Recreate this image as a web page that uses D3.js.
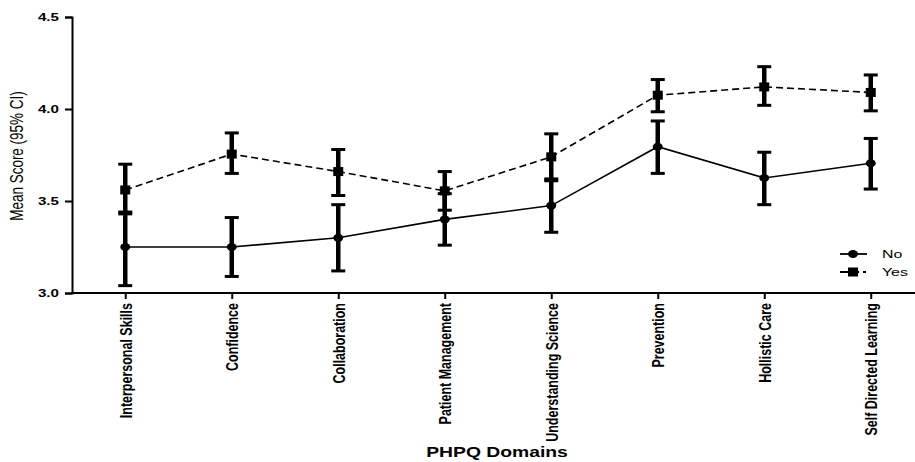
<!DOCTYPE html>
<html>
<head>
<meta charset="utf-8">
<script src="https://cdn.jsdelivr.net/npm/d3@7"></script>
<style>
  body { margin: 0; background: #fff; }
  text { font-family: Arial, "Liberation Sans", sans-serif; fill: #000; }
</style>
</head>
<body>
<svg id="chart" width="915" height="462"></svg>
<script>
var domains = ["Interpersonal Skills", "Confidence", "Collaboration", "Patient Management",
               "Understanding Science", "Prevention", "Hollistic Care", "Self Directed Learning"]

// "No" group: mean, lower, upper
var noMean  = [3.25, 3.25, 3.30, 3.40, 3.475, 3.795, 3.625, 3.705]
var noLow   = [3.04, 3.09, 3.12, 3.26, 3.33, 3.65, 3.48, 3.565]
var noHigh  = [3.44, 3.41, 3.48, 3.54, 3.62, 3.935, 3.765, 3.84]

// "Yes" group
var yesMean = [3.56, 3.755, 3.66, 3.555, 3.74, 4.075, 4.12, 4.09]
var yesLow  = [3.43, 3.65, 3.53, 3.45, 3.61, 3.985, 4.02, 3.99]
var yesHigh = [3.70, 3.87, 3.78, 3.66, 3.865, 4.16, 4.23, 4.185]

var yTicks = [3.0, 3.5, 4.0, 4.5]

// the original picture is stretched sideways, so text gets a horizontal stretch
var sx = 1.38

var svg = d3.select("#chart")

var x = d3.scalePoint()
  .domain(domains)
  .range([72, 924])
  .padding(0.5)

var y = d3.scaleLinear()
  .domain([3.0, 4.5])
  .range([293, 17])

// axes
var yAxis = svg.append("g")
  .attr("transform", "translate(72,0)")
  .call(d3.axisLeft(y).tickValues(yTicks).tickFormat(d3.format(".1f")).tickSizeOuter(0).tickSize(7))
yAxis.select(".domain").attr("stroke-width", 2)
yAxis.selectAll(".tick line").attr("stroke-width", 2)
yAxis.selectAll(".tick text")
  .style("font-size", "11px").style("font-weight", "bold")
  .attr("x", 0).attr("dy", "0.36em")
  .attr("text-anchor", "end")
  .attr("transform", "translate(-13,0) scale(" + sx + ",1)")

var xAxis = svg.append("g")
  .attr("transform", "translate(0,293)")
  .call(d3.axisBottom(x).tickSizeOuter(0).tickSize(6))
xAxis.select(".domain").attr("stroke-width", 2).attr("d", "M72,0H915")
xAxis.selectAll(".tick line").attr("stroke-width", 2)
xAxis.selectAll(".tick text")
  .style("font-size", "12.5px").style("font-weight", "bold")
  .attr("x", 0).attr("y", 0).attr("dy", "0.36em")
  .attr("text-anchor", "end")
  .attr("transform", "translate(0,10) scale(" + sx + ",1) rotate(-90)")

svg.append("text")
  .attr("transform", "translate(16,156) scale(" + sx + ",1) rotate(-90)")
  .attr("text-anchor", "middle")
  .attr("dy", "0.36em")
  .style("font-size", "13.5px")
  .text("Mean Score (95% CI)")

svg.append("text")
  .attr("transform", "translate(497,457) scale(" + sx + ",1)")
  .attr("text-anchor", "middle")
  .style("font-size", "14px").style("font-weight", "bold")
  .text("PHPQ Domains")

function drawSeries(mean, low, high, dashed, marker) {
  var g = svg.append("g")
  var line = d3.line().x((d, i) => x(domains[i])).y(d => y(d))
  g.append("path")
    .datum(mean)
    .attr("fill", "none")
    .attr("stroke", "#000")
    .attr("stroke-width", 1.6)
    .attr("stroke-dasharray", dashed ? "7,4" : null)
    .attr("d", line)

  domains.forEach((dm, i) => {
    var cx = x(dm)
    g.append("line").attr("x1", cx).attr("x2", cx).attr("y1", y(low[i])).attr("y2", y(high[i]))
      .attr("stroke", "#000").attr("stroke-width", 4.5)
    ;[low[i], high[i]].forEach(v => {
      g.append("line").attr("x1", cx - 7).attr("x2", cx + 7).attr("y1", y(v)).attr("y2", y(v))
        .attr("stroke", "#000").attr("stroke-width", 3)
    })
    drawMarker(g, marker, cx, y(mean[i]))
  })
}

function drawMarker(g, marker, cx, cy) {
  if (marker == "circle")
    g.append("ellipse").attr("cx", cx).attr("cy", cy).attr("rx", 5).attr("ry", 4).attr("fill", "#000")
  else
    g.append("rect").attr("x", cx - 5).attr("y", cy - 4.5).attr("width", 10).attr("height", 9).attr("fill", "#000")
}

drawSeries(noMean, noLow, noHigh, false, "circle")
drawSeries(yesMean, yesLow, yesHigh, true, "square")

// legend
var legend = svg.append("g")
var items = [{label: "No", dashed: false, marker: "circle"}, {label: "Yes", dashed: true, marker: "square"}]
items.forEach((it, i) => {
  var ly = 254 + i * 18
  legend.append("line").attr("x1", 840).attr("x2", 867).attr("y1", ly).attr("y2", ly)
    .attr("stroke", "#000").attr("stroke-width", 1.8)
    .attr("stroke-dasharray", it.dashed ? "19,4,3,10" : null)
  drawMarker(legend, it.marker, 853, ly)
  legend.append("text")
    .attr("transform", "translate(882," + ly + ") scale(" + sx + ",1)")
    .attr("dy", "0.36em")
    .style("font-size", "11.5px").text(it.label)
})
</script>
</body>
</html>
